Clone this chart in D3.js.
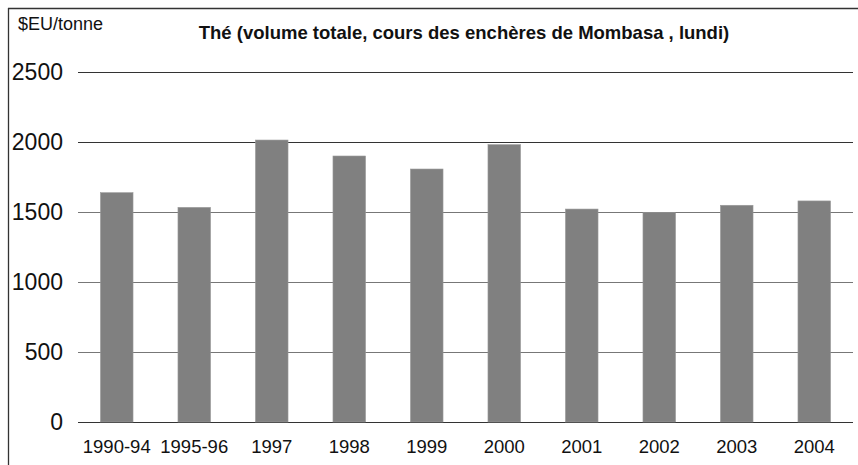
<!DOCTYPE html>
<html>
<head>
<meta charset="utf-8">
<script src="https://cdn.jsdelivr.net/npm/d3@7"></script>
<style>
	body { margin: 0; background: #fff; }
	svg { display: block; font-family: "Liberation Sans", Arial, sans-serif; }
</style>
</head>
<body>
<svg width="858" height="465"></svg>
<script>
let categories = ['1990-94', '1995-96', '1997', '1998', '1999', '2000', '2001', '2002', '2003', '2004']
let prices = [1638, 1533, 2014, 1900, 1807, 1981, 1521, 1495, 1548, 1579]
let yTicks = [0, 500, 1000, 1500, 2000, 2500]

let svg = d3.select('svg')

let x = d3.scaleBand()
	.domain(categories)
	.range([78, 853])
	.paddingInner(0.58)
	.paddingOuter(0.29)

let y = d3.scaleLinear()
	.domain([0, 2500])
	.range([422, 72])

// frame: top and left edges only
svg.append('line')
	.attr('x1', 8).attr('y1', 8.5).attr('x2', 858).attr('y2', 8.5)
	.attr('stroke', '#333').attr('stroke-width', 1.3)
svg.append('line')
	.attr('x1', 8.5).attr('y1', 8).attr('x2', 8.5).attr('y2', 465)
	.attr('stroke', '#333').attr('stroke-width', 1.3)

// gridlines
svg.append('g')
	.selectAll('line')
	.data(yTicks)
	.join('line')
	.attr('x1', 78)
	.attr('x2', 853)
	.attr('y1', d => Math.round(y(d)) + 0.5)
	.attr('y2', d => Math.round(y(d)) + 0.5)
	.attr('stroke', d => (d == 0 || d >= 2000) ? '#333' : '#777')

// y tick labels
svg.append('g')
	.selectAll('text')
	.data(yTicks)
	.join('text')
	.attr('x', 63)
	.attr('y', d => y(d))
	.attr('dy', '0.36em')
	.attr('text-anchor', 'end')
	.attr('font-size', 23)
	.attr('fill', '#111')
	.text(d => d)

// bars
svg.append('g')
	.selectAll('rect')
	.data(prices)
	.join('rect')
	.attr('x', (d, i) => x(categories[i]))
	.attr('y', d => y(d))
	.attr('width', x.bandwidth())
	.attr('height', d => y(0) - y(d))
	.attr('fill', '#808080')
	.attr('stroke', '#999')
	.attr('stroke-width', 0.6)

// x labels
svg.append('g')
	.selectAll('text')
	.data(categories)
	.join('text')
	.attr('x', d => x(d) + x.bandwidth() / 2)
	.attr('y', 453)
	.attr('text-anchor', 'middle')
	.attr('font-size', 18.5)
	.attr('fill', '#111')
	.text(d => d)

svg.append('text')
	.attr('x', 18)
	.attr('y', 30)
	.attr('font-size', 18)
	.attr('fill', '#111')
	.text('$EU/tonne')

svg.append('text')
	.attr('x', 464)
	.attr('y', 39)
	.attr('text-anchor', 'middle')
	.attr('font-size', 18.5)
	.attr('font-weight', 'bold')
	.attr('fill', '#111')
	.text('Thé (volume totale, cours des enchères de Mombasa , lundi)')
</script>
</body>
</html>
